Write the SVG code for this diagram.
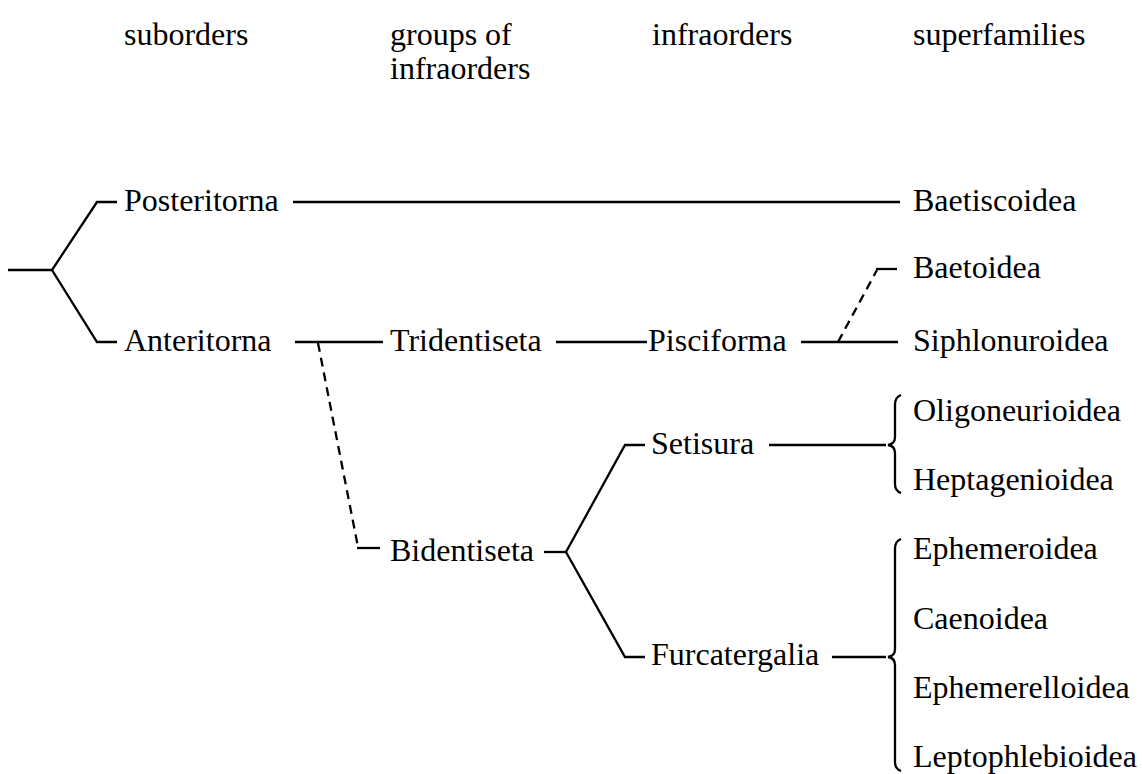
<svg xmlns="http://www.w3.org/2000/svg" width="1142" height="774" viewBox="0 0 1142 774">
<style>
text{font-family:'Liberation Serif','Times New Roman',serif;font-size:32px;fill:#000}
.l{fill:none;stroke:#000;stroke-width:2.3;stroke-linejoin:miter}
.d{fill:none;stroke:#000;stroke-width:2.3;stroke-dasharray:9 6}
</style>
<rect width="1142" height="774" fill="#fff"/>
<g id="headers">
<text x="124" y="45">suborders</text>
<text x="390" y="45">groups of</text>
<text x="390" y="79">infraorders</text>
<text x="652" y="45">infraorders</text>
<text x="913" y="45">superfamilies</text>
</g>
<g id="connectors">
<polyline class="l" points="8,270 52,270"/>
<polyline class="l" points="117,202 97,202 52,270 97,342 117,342"/>
<line class="l" x1="293" y1="202" x2="900" y2="202"/>
<line class="l" x1="295" y1="342" x2="383" y2="342"/>
<line class="d" x1="318" y1="343" x2="358" y2="547"/>
<line class="l" x1="357" y1="548" x2="380" y2="548"/>
<line class="l" x1="556" y1="342" x2="647" y2="342"/>
<line class="l" x1="801" y1="342" x2="898" y2="342"/>
<line class="d" x1="838" y1="342" x2="877" y2="270"/>
<line class="l" x1="876" y1="269" x2="897" y2="269"/>
<line class="l" x1="544" y1="552" x2="566" y2="552"/>
<polyline class="l" points="645,445 625,445 566,552 625,657 645,657"/>
<line class="l" x1="769" y1="445" x2="886" y2="445"/>
<line class="l" x1="832" y1="657" x2="886" y2="657"/>
<path class="l" d="M901 395 Q895 397 895 405 L895 437 Q895 444 888 445 Q895 446 895 453 L895 484 Q895 491 901 493"/>
<path class="l" d="M901 539 Q895 541 895 549 L895 649 Q895 656 888 657 Q895 658 895 665 L895 762 Q895 769 901 771"/>
</g>
<g id="nodes">
<g id="n-posteritorna"><text x="124" y="211">Posteritorna</text></g>
<g id="n-anteritorna"><text x="124" y="351">Anteritorna</text></g>
<g id="n-tridentiseta"><text x="390" y="351">Tridentiseta</text></g>
<g id="n-bidentiseta"><text x="390" y="561">Bidentiseta</text></g>
<g id="n-pisciforma"><text x="648" y="351">Pisciforma</text></g>
<g id="n-setisura"><text x="651" y="454">Setisura</text></g>
<g id="n-furcatergalia"><text x="651" y="665">Furcatergalia</text></g>
<g id="n-baetiscoidea"><text x="913" y="211">Baetiscoidea</text></g>
<g id="n-baetoidea"><text x="913" y="278">Baetoidea</text></g>
<g id="n-siphlonuroidea"><text x="913" y="351">Siphlonuroidea</text></g>
<g id="n-oligoneurioidea"><text x="913" y="421">Oligoneurioidea</text></g>
<g id="n-heptagenioidea"><text x="913" y="490">Heptagenioidea</text></g>
<g id="n-ephemeroidea"><text x="913" y="559">Ephemeroidea</text></g>
<g id="n-caenoidea"><text x="913" y="629">Caenoidea</text></g>
<g id="n-ephemerelloidea"><text x="913" y="698">Ephemerelloidea</text></g>
<g id="n-leptophlebioidea"><text x="913" y="767">Leptophlebioidea</text></g>
</g>
</svg>
